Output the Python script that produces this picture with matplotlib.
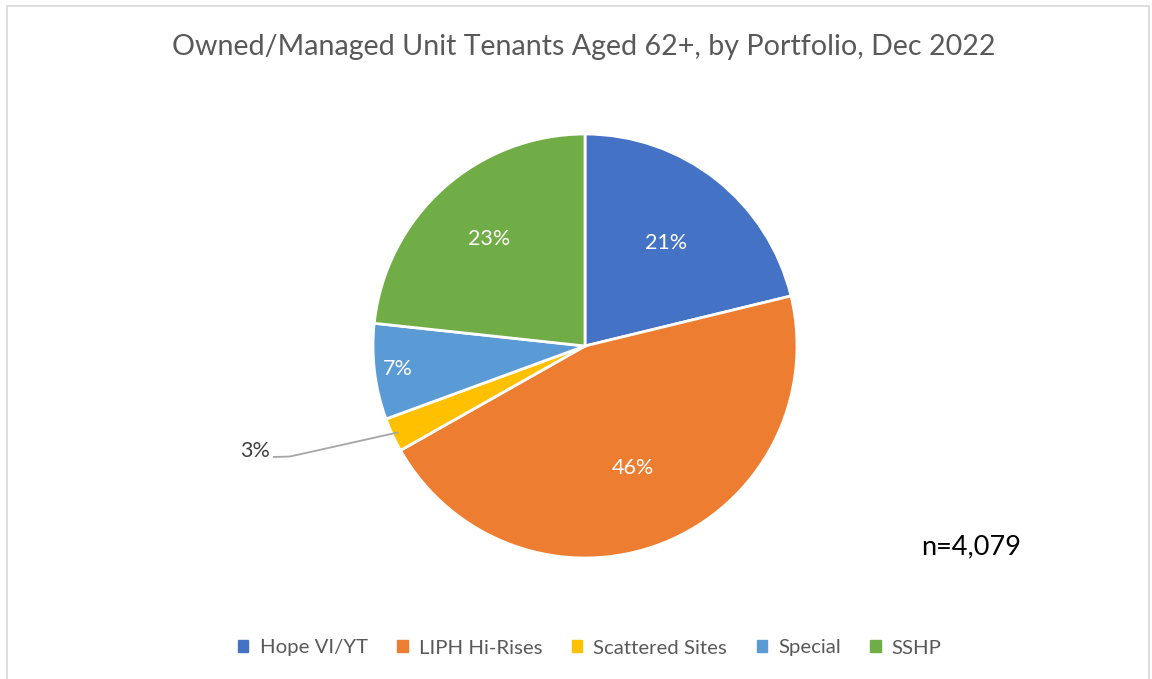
import matplotlib
matplotlib.use("Agg")
import matplotlib.pyplot as plt
import numpy as np
from matplotlib.patches import Rectangle

categories = ["Hope VI/YT", "LIPH Hi-Rises", "Scattered Sites", "Special", "SSHP"]
counts = [865, 1860, 106, 298, 950]
colors = ["#4472C4", "#ED7D31", "#FFC000", "#5B9BD5", "#70AD47"]
title = "Owned/Managed Unit Tenants Aged 62+, by Portfolio, Dec 2022"
n_label = "n=4,079"

plt.rcParams['font.family'] = ['Lato', 'DejaVu Sans']

W, H = 1152, 679
fig = plt.figure(figsize=(W/100, H/100), dpi=100)
fig.patches.append(Rectangle((7/W, -0.01), (1149-7)/W, 1 - 6/H + 0.01, transform=fig.transFigure,
                             fill=False, edgecolor="#D9D9D9", linewidth=1.2))

cx, cy, r = 585, 346, 212
ax = fig.add_axes([(cx - r)/W, (H - cy - r)/H, 2*r/W, 2*r/H])
wedges, _ = ax.pie(counts, colors=colors, startangle=90, counterclock=False,
                   wedgeprops=dict(edgecolor="white", linewidth=2))
ax.set_xlim(-1, 1); ax.set_ylim(-1, 1)
ax.set_aspect('auto')

total = sum(counts)
label_r = [0.62, 0.62, None, 0.89, 0.68]
for w, c, lr in zip(wedges, counts, label_r):
    pct = f"{round(100*c/total):d}%"
    mid = np.deg2rad((w.theta1 + w.theta2)/2)
    if lr is not None:
        ax.text(lr*np.cos(mid), lr*np.sin(mid), pct, ha="center", va="center",
                color="white", fontsize=15.5)
    else:
        ex, ey = 0.97*np.cos(mid), 0.97*np.sin(mid)
        px = lambda X: (X - cx)/r
        py = lambda Y: (cy - Y)/r
        ax.plot([px(273), px(290), ex], [py(457), py(456.5), ey], color="#A6A6A6",
                lw=1.3, clip_on=False, solid_capstyle="butt")
        ax.text(px(270), py(451), pct, ha="right", va="center", color="#404040", fontsize=15.5)

fig.text(584/W, 1 - 47/H, title, ha="center", va="center", color="#595959", fontsize=20.6)
fig.text(971/W, 1 - 547/H, n_label, ha="center", va="center", color="black", fontsize=19.5)

handles = [Rectangle((0, 0), 1, 1, color=c) for c in colors]
fig.legend(handles, categories, loc="center", bbox_to_anchor=(590/W, 1 - 648/H), ncol=5,
           frameon=False, fontsize=14.7, handlelength=0.5, handleheight=0.5,
           handletextpad=0.55, columnspacing=1.45, labelcolor="#595959")

fig.savefig("out.png", dpi=100)
